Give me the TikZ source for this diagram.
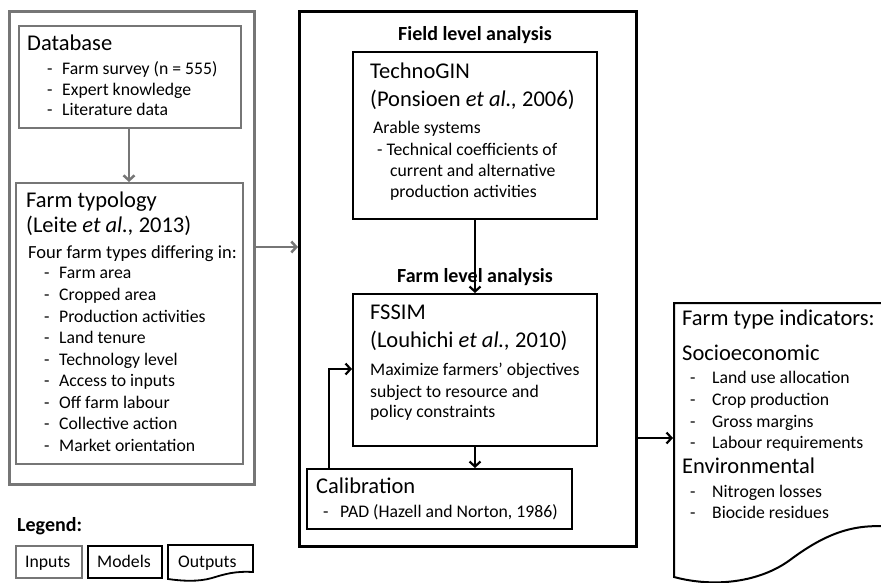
\documentclass[tikz,border=0pt]{standalone}
\usepackage{fontspec}
\setmainfont{Carlito}
\usetikzlibrary{arrows.meta}
\definecolor{ingray}{RGB}{118,118,118}
\tikzset{
  inbox/.style={draw=ingray, line width=1.5pt, rectangle, inner sep=0pt, anchor=north west},
  outerin/.style={draw=ingray, line width=2.5pt, rectangle, inner sep=0pt, anchor=north west},
  modbox/.style={draw=black, line width=1.8pt, rectangle, inner sep=0pt, anchor=north west},
  outermod/.style={draw=black, line width=2.5pt, rectangle, inner sep=0pt, anchor=north west},
  ttl/.style={anchor=base west, inner sep=0pt, font=\fontsize{22.5}{27}\selectfont},
  itm/.style={anchor=base west, inner sep=0pt, font=\fontsize{17.7}{21}\selectfont},
  hdr/.style={anchor=base, inner sep=0pt, font=\bfseries\fontsize{20}{24}\selectfont},
  garr/.style={draw=ingray, line width=2.5pt, -{Straight Barb[length=5pt,width=11pt,line width=2.5pt]}},
  barr/.style={draw=black, line width=2.2pt, -{Straight Barb[length=5pt,width=11pt,line width=2.2pt]}},
}
\begin{document}
\begin{tikzpicture}[x=1pt,y=-1pt]
\useasboundingbox (0,0) rectangle (881,582);
% input side
\node[outerin, minimum width=245pt, minimum height=473pt] (inputs) at (8,10) {};
\node[inbox, minimum width=222pt, minimum height=102pt] (db) at (18,25) {};
\node[inbox, minimum width=227pt, minimum height=281pt] (typ) at (15,182) {};
\node[ttl] (dbt) at (27,50) {Database};
\node[itm] (d1) at (47,74) {-};
\node[itm] (d1t) at (62,74) {Farm survey (n = 555)};
\node[itm] (d2) at (47,95) {-};
\node[itm] (d2t) at (62,95) {Expert knowledge};
\node[itm] (d3) at (47,115) {-};
\node[itm] (d3t) at (62,115) {Literature data};
\node[ttl] (tt1) at (26,207) {Farm typology};
\node[ttl] (tt2) at (26,232) {(Leite \textit{et al.,} 2013)};
\node[itm, font=\fontsize{18.5}{22}\selectfont] (tt3) at (28,258) {Four farm types differing in:};
\foreach \y/\t [count=\i] in {278/Farm area,300/Cropped area,322/Production activities,343/Land tenure,365/Technology level,386/Access to inputs,408/Off farm labour,429/Collective action,451/Market orientation}{
  \node[itm] (ta\i) at (44,\y) {-};
  \node[itm] (tb\i) at (59,\y) {\t};
}
\draw[garr] (db.south -| 129,0) -- (typ.north -| 129,0);
% models
\node[outermod, minimum width=337pt, minimum height=535pt] (mid) at (298,10) {};
\node[hdr] (fla) at (475,40) {Field level analysis};
\node[modbox, minimum width=244pt, minimum height=167pt] (tech) at (352,51) {};
\node[ttl] (te1) at (370,78) {TechnoGIN};
\node[ttl] (te2) at (370,106) {(Ponsioen \textit{et al.,} 2006)};
\node[itm] (te3) at (373,133) {Arable systems};
\node[itm] (te4) at (377,155) {- Technical coefficients of};
\node[itm] (te5) at (390,176) {current and alternative};
\node[itm] (te6) at (390,197) {production activities};
\node[hdr] (farmla) at (475,282) {Farm level analysis};
\node[modbox, minimum width=244pt, minimum height=152pt] (fssim) at (352,293) {};
\node[ttl] (fs1) at (370,319) {FSSIM};
\node[ttl] (fs2) at (370,347) {(Louhichi \textit{et al.,} 2010)};
\node[itm] (fs3) at (370,375) {Maximize farmers’ objectives};
\node[itm] (fs4) at (370,397) {subject to resource and};
\node[itm] (fs5) at (370,417) {policy constraints};
\node[modbox, minimum width=265pt, minimum height=60pt] (calib) at (306,468) {};
\node[ttl] (ca1) at (316,493) {Calibration};
\node[itm] (ca2) at (323,517) {-};
\node[itm] (ca3) at (340,517) {PAD (Hazell and Norton, 1986)};
\draw[barr] (tech.south -| 475,0) -- (fssim.north -| 475,0);
\draw[barr] (fssim.south -| 475,0) -- (calib.north -| 475,0);
\draw[barr] (calib.north -| 329,0) |- (fssim.west |- 0,369);
% connector input -> models
\draw[garr] (inputs.east |- 0,247) -- (mid.west |- 0,247);
% outputs
\coordinate (outin) at (673,438);
\begin{scope}
\clip (0,0) rectangle (881,582);
\draw[line width=2pt] (674,303) -- (900,303) -- (900,528)
  .. controls (860,522) and (830,530) .. (790,560)
  .. controls (760,582) and (715,588) .. (674,577) -- cycle;
\end{scope}
\draw[barr] (mid.east |- 0,438) -- (outin);
\node[ttl] (o1) at (682,325) {Farm type indicators:};
\node[ttl] (o2) at (682,360) {Socioeconomic};
\node[ttl] (o3) at (682,473) {Environmental};
\foreach \y/\t [count=\i] in {383/Land use allocation,405/Crop production,427/Gross margins,448/Labour requirements,497/Nitrogen losses,518/Biocide residues}{
  \node[itm] (oa\i) at (690,\y) {-};
  \node[itm] (ob\i) at (712,\y) {\t};
}
% legend
\node[anchor=base west, inner sep=0pt, font=\bfseries\fontsize{20}{24}\selectfont] (leg) at (17,531) {Legend:};
\node[inbox, line width=2pt, minimum width=66pt, minimum height=32pt] (lin) at (15,545) {};
\node[itm] (lint) at (25,567) {Inputs};
\node[modbox, minimum width=74pt, minimum height=32pt] (lmo) at (87,545) {};
\node[itm] (lmot) at (97,567) {Models};
\draw[line width=1.8pt] (168,545) -- (253,545) -- (253,572)
  .. controls (235,571) and (225,574) .. (212,578)
  .. controls (198,582) and (182,581) .. (168,579) -- cycle;
\node[itm] (lout) at (178,567) {Outputs};
\end{tikzpicture}
\end{document}
